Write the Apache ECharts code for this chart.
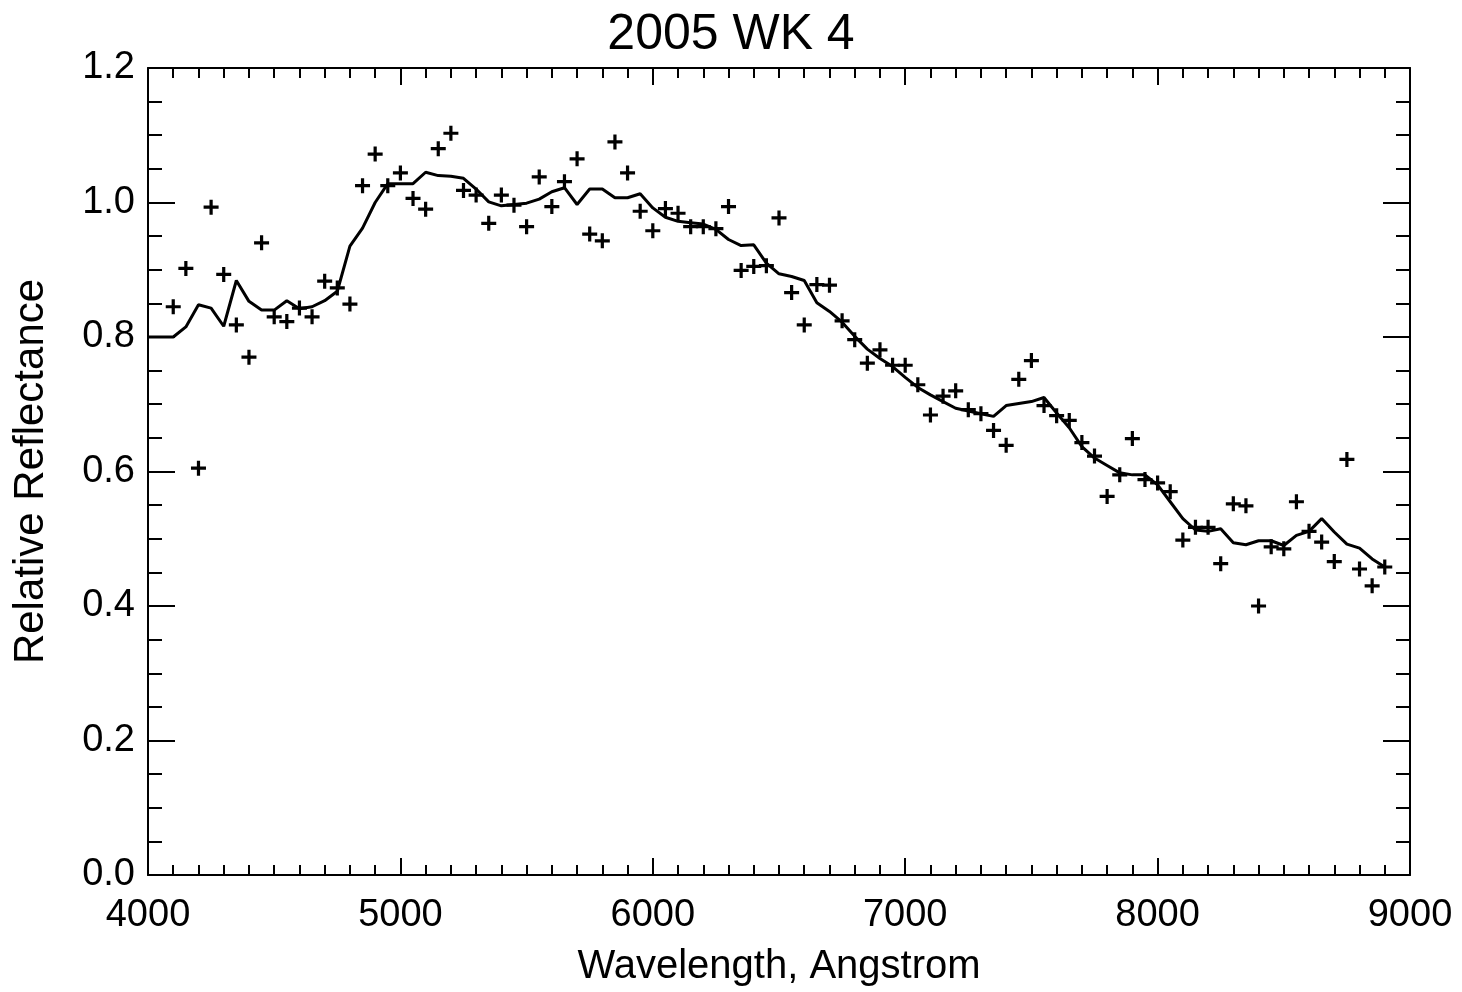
<!DOCTYPE html>
<html>
<head>
<meta charset="utf-8">
<script src="https://cdn.jsdelivr.net/npm/echarts@6/dist/echarts.min.js"></script>
<style>
html,body{margin:0;padding:0;background:#fff;}
#chart{width:1462px;height:992px;}
</style>
</head>
<body>
<div id="chart"></div>
<script>
const titleText = "2005 WK 4";
const xAxisName = "Wavelength, Angstrom";
const yAxisName = "Relative Reflectance";

const wavelengths = [4100,4150,4200,4250,4300,4350,4400,4450,4500,4550,4600,4650,4700,4750,4800,4850,4900,4950,
5000,5050,5100,5150,5200,5250,5300,5350,5400,5450,5500,5550,5600,5650,5700,5750,5800,5850,5900,5950,
6000,6050,6100,6150,6200,6250,6300,6350,6400,6450,6500,6550,6600,6650,6700,6750,6800,6850,6900,6950,
7000,7050,7100,7150,7200,7250,7300,7350,7400,7450,7500,7550,7600,7650,7700,7750,7800,7850,7900,7950,
8000,8050,8100,8150,8200,8250,8300,8350,8400,8450,8500,8550,8600,8650,8700,8750,8800,8850,8900];

const reflectance = [0.845,0.902,0.605,0.993,0.893,0.818,0.770,0.940,0.830,0.823,0.843,0.830,0.883,0.873,0.849,1.025,1.072,1.025,
1.044,1.006,0.990,1.080,1.103,1.018,1.011,0.969,1.011,0.996,0.964,1.038,0.994,1.031,1.065,0.953,0.943,1.090,1.044,0.987,
0.958,0.991,0.984,0.964,0.964,0.961,0.994,0.899,0.905,0.906,0.977,0.866,0.818,0.878,0.877,0.824,0.796,0.761,0.781,0.758,
0.758,0.729,0.684,0.712,0.720,0.692,0.686,0.661,0.639,0.737,0.765,0.698,0.683,0.676,0.643,0.623,0.563,0.595,0.649,0.588,
0.583,0.570,0.498,0.517,0.517,0.463,0.552,0.549,0.400,0.488,0.485,0.555,0.511,0.495,0.466,0.618,0.455,0.430,0.458];

const smoothWavelengths = [4000,4100,4150,4200,4250,4300,4350,4400,4450,4500,4550,4600,4650,4700,4750,4800,4850,4900,4950,
5000,5050,5100,5150,5200,5250,5300,5350,5400,5450,5500,5550,5600,5650,5700,5750,5800,5850,5900,5950,
6000,6050,6100,6150,6200,6250,6300,6350,6400,6450,6500,6550,6600,6650,6700,6750,6800,6850,6900,6950,
7000,7050,7100,7150,7200,7250,7300,7350,7400,7450,7500,7550,7600,7650,7700,7750,7800,7850,7900,7950,
8000,8050,8100,8150,8200,8250,8300,8350,8400,8450,8500,8550,8600,8650,8700,8750,8800,8850,8900];

const smoothValues = [0.800,0.800,0.815,0.848,0.843,0.816,0.884,0.853,0.840,0.840,0.854,0.842,0.845,0.854,0.868,0.935,0.962,1.000,1.028,
1.028,1.028,1.045,1.040,1.039,1.036,1.020,1.001,0.995,0.997,0.999,1.005,1.016,1.022,0.997,1.020,1.020,1.007,1.007,1.013,
0.992,0.978,0.972,0.970,0.968,0.960,0.945,0.936,0.937,0.910,0.894,0.890,0.884,0.851,0.838,0.822,0.801,0.782,0.768,0.756,
0.740,0.725,0.714,0.704,0.694,0.690,0.686,0.682,0.698,0.701,0.704,0.710,0.687,0.665,0.637,0.620,0.609,0.598,0.595,0.595,
0.580,0.555,0.530,0.513,0.511,0.515,0.494,0.491,0.497,0.497,0.490,0.505,0.511,0.530,0.510,0.492,0.486,0.470,0.458];

const xMin = 4000, xMax = 9000, xStep = 1000;
const yMin = 0, yMax = 1.2, yStep = 0.2;

const FONT = "'Liberation Sans', Arial, sans-serif";
const BLACK = '#000';

const scatterData = wavelengths.map((w, i) => [w, reflectance[i]]);
const lineData = smoothWavelengths.map((w, i) => [w, smoothValues[i]]);

const plusPath = 'path://M5.5,0 H8.5 V5.5 H14 V8.5 H8.5 V14 H5.5 V8.5 H0 V5.5 H5.5 Z';

function xAxisCfg(pos, showLabel) {
  return {
    type: 'value', position: pos, min: xMin, max: xMax, interval: xStep,
    axisLine: { show: true, onZero: false, lineStyle: { color: BLACK, width: 2 } },
    axisTick: { show: true, inside: true, length: 17, lineStyle: { color: BLACK, width: 2 } },
    minorTick: { show: true, splitNumber: 10, length: 10, lineStyle: { color: BLACK, width: 2 } },
    splitLine: { show: false },
    axisLabel: { show: showLabel, color: BLACK, fontFamily: FONT, fontSize: 38, margin: 22,
      formatter: v => String(v) },
    name: showLabel ? xAxisName : '',
    nameLocation: 'middle', nameGap: 72,
    nameTextStyle: { color: BLACK, fontFamily: FONT, fontSize: 40 }
  };
}
function yAxisCfg(pos, showLabel) {
  return {
    type: 'value', position: pos, min: yMin, max: yMax, interval: yStep,
    axisLine: { show: true, onZero: false, lineStyle: { color: BLACK, width: 2 } },
    axisTick: { show: true, inside: true, length: 27, lineStyle: { color: BLACK, width: 2 } },
    minorTick: { show: true, splitNumber: 4, length: 14, lineStyle: { color: BLACK, width: 2 } },
    splitLine: { show: false },
    axisLabel: { show: showLabel, color: BLACK, fontFamily: FONT, fontSize: 38, margin: 13,
      formatter: v => Number(v).toFixed(1) },
    name: showLabel ? yAxisName : '',
    nameLocation: 'middle', nameGap: 96, nameRotate: 90,
    nameTextStyle: { color: BLACK, fontFamily: FONT, fontSize: 42 }
  };
}

const chart = echarts.init(document.getElementById('chart'), null, { renderer: 'canvas' });
chart.setOption({
  backgroundColor: '#fff',
  animation: false,
  title: {
    text: titleText, left: 'center', top: 5,
    textStyle: { color: BLACK, fontFamily: FONT, fontSize: 50, fontWeight: 'normal' }
  },
  grid: { left: 148, right: 52, top: 68, bottom: 107, containLabel: false },
  xAxis: [xAxisCfg('bottom', true), xAxisCfg('top', false)],
  yAxis: [yAxisCfg('left', true), yAxisCfg('right', false)],
  series: [
    {
      type: 'line', data: lineData, xAxisIndex: 0, yAxisIndex: 0,
      showSymbol: false, symbol: 'none',
      lineStyle: { color: BLACK, width: 3 }, z: 2
    },
    {
      type: 'scatter', data: scatterData, xAxisIndex: 0, yAxisIndex: 0,
      symbol: plusPath, symbolSize: 15,
      itemStyle: { color: BLACK, opacity: 1 }, z: 3
    }
  ]
});
</script>
</body>
</html>
